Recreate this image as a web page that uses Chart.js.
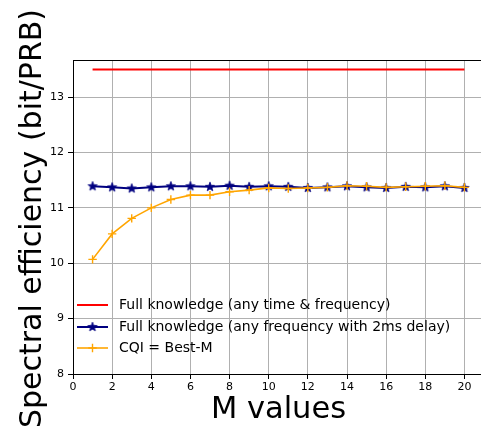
<!DOCTYPE html>
<html>
<head>
<meta charset="utf-8">
<script src="https://cdn.jsdelivr.net/npm/chart.js@4"></script>
<style>
html, body { margin: 0; padding: 0; overflow: hidden; background: #fff; width: 481px; height: 428px; }
canvas { display: block; }
</style>
</head>
<body>
<canvas id="c" width="491" height="428"></canvas>
<script>
const mValues = [1, 2, 3, 4, 5, 6, 7, 8, 9, 10, 11, 12, 13, 14, 15, 16, 17, 18, 19, 20];
const fullKnowledge = [13.5, 13.5, 13.5, 13.5, 13.5, 13.5, 13.5, 13.5, 13.5, 13.5, 13.5, 13.5, 13.5, 13.5, 13.5, 13.5, 13.5, 13.5, 13.5, 13.5];
const fullKnowledgeDelay = [11.39, 11.37, 11.35, 11.37, 11.39, 11.39, 11.38, 11.40, 11.38, 11.39, 11.38, 11.36, 11.37, 11.39, 11.37, 11.36, 11.38, 11.37, 11.39, 11.36];
const cqiBestM = [10.07, 10.53, 10.81, 11.00, 11.15, 11.23, 11.23, 11.29, 11.32, 11.36, 11.35, 11.36, 11.37, 11.40, 11.39, 11.37, 11.38, 11.39, 11.40, 11.37];
const seriesLabels = ['Full knowledge (any time & frequency)', 'Full knowledge (any frequency with 2ms delay)', 'CQI = Best-M'];
const xTicks = [0, 2, 4, 6, 8, 10, 12, 14, 16, 18, 20];
const yTicks = [8, 9, 10, 11, 12, 13];
const xTitle = 'M values';
const yTitle = 'Spectral efficiency (bit/PRB)';

function makeStar(color, outer, inner) {
  const size = Math.ceil(outer * 2 + 2);
  const cv = document.createElement('canvas');
  cv.width = size; cv.height = size;
  const g = cv.getContext('2d');
  const cx = size / 2, cy = size / 2;
  g.beginPath();
  for (let i = 0; i < 10; i++) {
    const r = i % 2 === 0 ? outer : inner;
    const a = -Math.PI / 2 + i * Math.PI / 5;
    const px = cx + r * Math.cos(a), py = cy + r * Math.sin(a);
    if (i === 0) g.moveTo(px, py); else g.lineTo(px, py);
  }
  g.closePath();
  g.fillStyle = color;
  g.fill();
  g.strokeStyle = color;
  g.lineWidth = 0.8;
  g.stroke();
  return cv;
}
const starImg = makeStar('#000080', 4.8, 2.0);

const toPts = (ys) => mValues.map((x, i) => ({x: x, y: ys[i]}));

const colors = ['#ff0000', '#000080', '#ffa500'];

const frameLegend = {
  id: 'frameLegend',
  afterDraw(chart) {
    const ctx = chart.ctx;
    const a = chart.chartArea;
    ctx.save();
    ctx.strokeStyle = '#000';
    ctx.lineWidth = 1;
    ctx.beginPath();
    ctx.moveTo(a.left, a.top + 0.5);
    ctx.lineTo(a.right, a.top + 0.5);
    ctx.stroke();
    // y title
    ctx.save();
    ctx.font = '30px "DejaVu Sans"';
    ctx.fillStyle = '#000';
    ctx.textAlign = 'center';
    ctx.textBaseline = 'alphabetic';
    ctx.translate(40.5, 218.5);
    ctx.rotate(-Math.PI / 2);
    ctx.fillText(yTitle, 0, 0);
    ctx.restore();
    // legend
    const rows = [305, 327, 348];
    ctx.font = '14px "DejaVu Sans"';
    ctx.textBaseline = 'middle';
    ctx.textAlign = 'left';
    for (let i = 0; i < 3; i++) {
      const y = rows[i];
      ctx.strokeStyle = colors[i];
      ctx.lineWidth = i === 2 ? 1.6 : 2;
      ctx.beginPath();
      ctx.moveTo(77, y);
      ctx.lineTo(108, y);
      ctx.stroke();
      if (i === 1) {
        ctx.drawImage(starImg, 92.5 - starImg.width / 2, y - starImg.height / 2);
      } else if (i === 2) {
        ctx.lineWidth = 1.4;
        ctx.beginPath();
        ctx.moveTo(92.5, y - 4.2); ctx.lineTo(92.5, y + 4.2);
        ctx.moveTo(88.3, y); ctx.lineTo(96.7, y);
        ctx.stroke();
      }
      ctx.fillStyle = '#000';
      ctx.fillText(seriesLabels[i], 119, y);
    }
    ctx.restore();
  }
};

new Chart(document.getElementById('c'), {
  type: 'line',
  data: {
    datasets: [
      { label: seriesLabels[0], order: 2, data: toPts(fullKnowledge), borderColor: colors[0], backgroundColor: colors[0], borderWidth: 2, pointRadius: 0, fill: false, tension: 0 },
      { label: seriesLabels[1], order: 1, data: toPts(fullKnowledgeDelay), borderColor: colors[1], backgroundColor: colors[1], borderWidth: 2, pointStyle: starImg, pointRadius: 5, fill: false, tension: 0 },
      { label: seriesLabels[2], order: 0, data: toPts(cqiBestM), borderColor: colors[2], backgroundColor: colors[2], borderWidth: 1.6, pointStyle: 'cross', pointRadius: 4.2, pointBorderWidth: 1.4, pointBorderColor: colors[2], fill: false, tension: 0 }
    ]
  },
  options: {
    responsive: false,
    animation: false,
    events: [],
    layout: { padding: { top: 60, right: 0, bottom: 0, left: 0 } },
    plugins: { legend: { display: false }, tooltip: { enabled: false } },
    scales: {
      x: {
        type: 'linear',
        min: 0, max: 21,
        afterFit(s) { s.height = 54; },
        afterBuildTicks(s) { s.ticks = xTicks.map(v => ({value: v})); },
        ticks: { font: { family: 'DejaVu Sans', size: 11 }, color: '#000', padding: 2, maxRotation: 0, autoSkip: false, callback: v => String(v) },
        grid: { color: '#b0b0b0', lineWidth: 1, drawTicks: true, tickLength: 5, tickColor: '#000', tickWidth: 1 },
        border: { color: '#000', width: 1 },
        title: { display: true, text: xTitle, font: { family: 'DejaVu Sans', size: 30.5 }, color: '#000', padding: { top: 0, bottom: 0 } }
      },
      y: {
        type: 'linear',
        min: 8, max: 13.67,
        afterFit(s) { s.width = 73; },
        afterBuildTicks(s) { s.ticks = yTicks.map(v => ({value: v})); },
        ticks: { font: { family: 'DejaVu Sans', size: 11 }, color: '#000', padding: 4, autoSkip: false, callback: v => String(v) },
        grid: { color: '#b0b0b0', lineWidth: 1, drawTicks: true, tickLength: 5, tickColor: '#000', tickWidth: 1 },
        border: { color: '#000', width: 1 },
        title: { display: false, text: yTitle }
      }
    }
  },
  plugins: [frameLegend]
});
</script>
</body>
</html>
